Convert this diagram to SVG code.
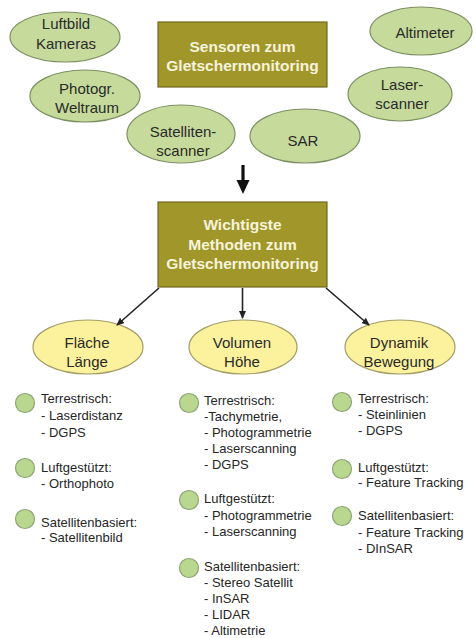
<svg xmlns="http://www.w3.org/2000/svg" width="476" height="638" viewBox="0 0 476 638">
<defs>
<style>
.g{fill:#c6da9c;stroke:#7d8f62;stroke-width:1.2}
.y{fill:#fcf29e;stroke:#a39d66;stroke-width:1.2}
.b{fill:#a0962a;stroke:#716a1e;stroke-width:1.2}
.dot{fill:#b9d78f;stroke:#8ea574;stroke-width:1.2}
.et{font-family:"Liberation Sans",Arial,sans-serif;font-size:15px;fill:#2a2a2a;text-anchor:middle}
.bt{font-family:"Liberation Sans",Arial,sans-serif;font-size:15.5px;font-weight:bold;fill:#f6f3dc;text-anchor:middle}
.lt{font-family:"Liberation Sans",Arial,sans-serif;font-size:13px;fill:#262626}
.c{stroke:#222;stroke-width:1.6;fill:none}
</style>
<marker id="ah" markerWidth="8" markerHeight="8" refX="7" refY="4" orient="auto" markerUnits="userSpaceOnUse">
<path d="M0,0.5 L8,4 L0,7.5 Z" fill="#222"/>
</marker>
</defs>
<rect width="476" height="638" fill="#fff"/>

<g id="sensoren">
<rect class="b" x="158" y="22" width="169" height="65"/>
<text class="bt" x="242.5" y="52">Sensoren zum</text>
<text class="bt" x="242.5" y="71">Gletschermonitoring</text>
</g>
<g id="luftbild">
<ellipse class="g" cx="65" cy="37" rx="55" ry="25"/>
<text class="et" x="66" y="28.5">Luftbild</text>
<text class="et" x="66" y="48.5">Kameras</text>
</g>
<g id="altimeter">
<ellipse class="g" cx="421" cy="31" rx="51" ry="24"/>
<text class="et" x="425" y="38">Altimeter</text>
</g>
<g id="photogr">
<ellipse class="g" cx="85" cy="96" rx="55" ry="26"/>
<text class="et" x="87" y="93.5">Photogr.</text>
<text class="et" x="87" y="112.5">Weltraum</text>
</g>
<g id="laserscanner">
<ellipse class="g" cx="400" cy="94" rx="52" ry="27"/>
<text class="et" x="402" y="90">Laser-</text>
<text class="et" x="402" y="108.5">scanner</text>
</g>
<g id="satellitenscanner">
<ellipse class="g" cx="181" cy="134" rx="54" ry="29"/>
<text class="et" x="183" y="137">Satelliten-</text>
<text class="et" x="183" y="155.5">scanner</text>
</g>
<g id="sar">
<ellipse class="g" cx="305" cy="136" rx="55" ry="27"/>
<text class="et" x="303" y="145.5">SAR</text>
</g>

<g id="methoden">
<rect class="b" x="158" y="202" width="169" height="85"/>
<text class="bt" x="242.5" y="230">Wichtigste</text>
<text class="bt" x="242.5" y="249.5">Methoden zum</text>
<text class="bt" x="242.5" y="269">Gletschermonitoring</text>
</g>

<g id="flaeche">
<ellipse class="y" cx="88" cy="347" rx="55" ry="27"/>
<text class="et" x="87" y="348">Fläche</text>
<text class="et" x="87" y="367">Länge</text>
</g>
<g id="volumen">
<ellipse class="y" cx="243" cy="347" rx="54" ry="27"/>
<text class="et" x="242" y="348">Volumen</text>
<text class="et" x="242" y="367">Höhe</text>
</g>
<g id="dynamik">
<ellipse class="y" cx="400" cy="347" rx="55" ry="27"/>
<text class="et" x="399" y="348">Dynamik</text>
<text class="et" x="399" y="367">Bewegung</text>
</g>

<g id="connectors">
<line x1="243" y1="165" x2="243" y2="182" stroke="#111" stroke-width="3.2"/>
<path d="M236.5,180 L249.5,180 L243,194 Z" fill="#111"/>
<line class="c" x1="159" y1="288" x2="117" y2="325" marker-end="url(#ah)"/>
<line class="c" x1="242.5" y1="288" x2="242.5" y2="318" marker-end="url(#ah)"/>
<line class="c" x1="326" y1="288" x2="369" y2="325" marker-end="url(#ah)"/>
</g>

<g id="liste-flaeche">
<circle class="dot" cx="25" cy="403" r="9.5"/>
<circle class="dot" cx="25" cy="468" r="9.5"/>
<circle class="dot" cx="25" cy="519" r="9.5"/>
<text class="lt" x="41" y="403">Terrestrisch:</text>
<text class="lt" x="41" y="420">- Laserdistanz</text>
<text class="lt" x="41" y="437">- DGPS</text>
<text class="lt" x="41" y="472">Luftgestützt:</text>
<text class="lt" x="41" y="488">- Orthophoto</text>
<text class="lt" x="41" y="527">Satellitenbasiert:</text>
<text class="lt" x="41" y="542">- Satellitenbild</text>
</g>

<g id="liste-volumen">
<circle class="dot" cx="189" cy="403" r="9.5"/>
<circle class="dot" cx="189" cy="500" r="9.5"/>
<circle class="dot" cx="189" cy="568" r="9.5"/>
<text class="lt" x="204" y="404.5">Terrestrisch:</text>
<text class="lt" x="204" y="420.5">-Tachymetrie,</text>
<text class="lt" x="204" y="436.5">- Photogrammetrie</text>
<text class="lt" x="204" y="452.5">- Laserscanning</text>
<text class="lt" x="204" y="468.5">- DGPS</text>
<text class="lt" x="204" y="503">Luftgestützt:</text>
<text class="lt" x="204" y="519.5">- Photogrammetrie</text>
<text class="lt" x="204" y="535.5">- Laserscanning</text>
<text class="lt" x="204" y="570.5">Satellitenbasiert:</text>
<text class="lt" x="204" y="586.5">- Stereo Satellit</text>
<text class="lt" x="204" y="602.5">- InSAR</text>
<text class="lt" x="204" y="618.5">- LIDAR</text>
<text class="lt" x="204" y="634.5">- Altimetrie</text>
</g>

<g id="liste-dynamik">
<circle class="dot" cx="342" cy="402" r="9.5"/>
<circle class="dot" cx="342" cy="469" r="9.5"/>
<circle class="dot" cx="342" cy="516" r="9.5"/>
<text class="lt" x="358" y="402.5">Terrestrisch:</text>
<text class="lt" x="358" y="418.5">- Steinlinien</text>
<text class="lt" x="358" y="434.5">- DGPS</text>
<text class="lt" x="358" y="471.5">Luftgestützt:</text>
<text class="lt" x="358" y="487">- Feature Tracking</text>
<text class="lt" x="358" y="520">Satellitenbasiert:</text>
<text class="lt" x="358" y="536.5">- Feature Tracking</text>
<text class="lt" x="358" y="552.5">- DInSAR</text>
</g>
</svg>
